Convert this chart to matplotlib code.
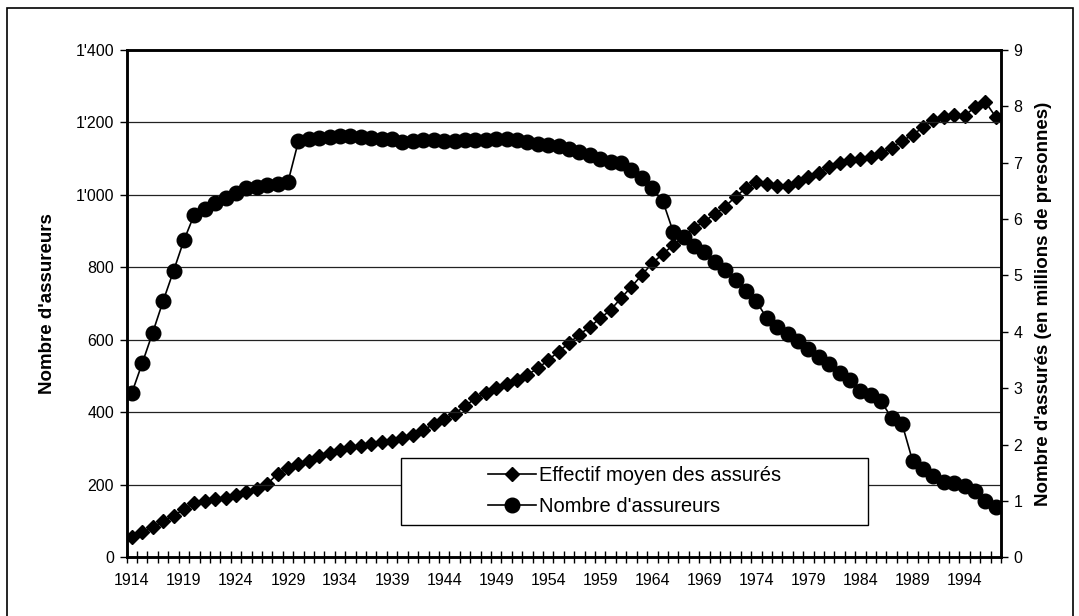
import numpy as np
import matplotlib.pyplot as plt
from matplotlib.patches import Rectangle
from matplotlib.ticker import FuncFormatter

plt.rcParams['font.family'] = ['Liberation Sans', 'DejaVu Sans']

years = list(range(1914, 1998))

# Nombre d'assureurs (axe de gauche)
assureurs = [454, 536, 620, 707, 790, 875, 946, 962, 977, 992,
             1005, 1018, 1022, 1028, 1031, 1036, 1148, 1154, 1157, 1161,
             1163, 1163, 1161, 1158, 1155, 1154, 1147, 1150, 1152, 1152,
             1150, 1150, 1151, 1152, 1153, 1155, 1155, 1152, 1146, 1141,
             1137, 1134, 1127, 1118, 1109, 1100, 1092, 1088, 1069, 1046,
             1018, 984, 899, 885, 860, 842, 816, 793, 764, 736,
             706, 660, 635, 615, 598, 575, 552, 533, 510, 489,
             458, 448, 430, 384, 368, 267, 244, 225, 209, 204,
             196, 182, 156, 140]

# Effectif moyen des assurés, en millions (axe de droite)
assures = [0.36, 0.44, 0.53, 0.64, 0.74, 0.85, 0.97, 0.99, 1.03, 1.06,
           1.11, 1.16, 1.21, 1.30, 1.48, 1.58, 1.65, 1.71, 1.79, 1.85,
           1.91, 1.95, 1.98, 2.01, 2.04, 2.07, 2.11, 2.17, 2.26, 2.36,
           2.45, 2.55, 2.68, 2.82, 2.91, 3.00, 3.08, 3.14, 3.24, 3.35,
           3.50, 3.65, 3.80, 3.95, 4.09, 4.24, 4.39, 4.60, 4.80, 5.01,
           5.22, 5.38, 5.54, 5.69, 5.84, 5.96, 6.09, 6.22, 6.40, 6.55,
           6.65, 6.62, 6.58, 6.59, 6.66, 6.75, 6.82, 6.93, 7.00, 7.04,
           7.07, 7.11, 7.17, 7.27, 7.39, 7.49, 7.63, 7.75, 7.82, 7.85,
           7.83, 7.99, 8.08, 7.81]

left_ticks = [0, 200, 400, 600, 800, 1000, 1200, 1400]
right_ticks = list(range(0, 10))

fig = plt.figure(figsize=(10.79, 6.16), dpi=100)
ax = fig.add_axes([0.1174, 0.0953, 0.8103, 0.8235])
ax2 = ax.twinx()
ax.set_zorder(ax2.get_zorder() + 1)
ax.patch.set_visible(False)

x = np.arange(len(years))

l1, = ax2.plot(x, assures, color='black', lw=1.2, marker='D', ms=7,
               label='Effectif moyen des assurés')
l2, = ax.plot(x, assureurs, color='black', lw=1.2, marker='o', ms=10.5,
              label="Nombre d'assureurs")

ax.set_xlim(-0.5, len(years) - 0.5)
ax.set_ylim(0, 1400)
ax2.set_ylim(0, 9)

ax.set_yticks(left_ticks)
ax.yaxis.set_major_formatter(FuncFormatter(lambda v, p: f"{int(v):,}".replace(',', "'")))
ax2.set_yticks(right_ticks)

# ticks at category boundaries, labels every 5 years at the centres
ax.set_xticks(np.arange(-0.5, len(years), 1.0))
ax.set_xticklabels([])
lab_pos = x[::5]
ax.set_xticks(lab_pos, minor=True)
ax.set_xticklabels([str(years[i]) for i in lab_pos], minor=True)
ax.tick_params(axis='x', which='major', direction='inout', length=9, width=1)
ax.tick_params(axis='x', which='minor', length=0, pad=11, labelsize=11.5)
ax.tick_params(axis='y', direction='out', length=5, width=1, labelsize=11.5, pad=4)
ax2.tick_params(axis='y', direction='out', length=5, width=1, labelsize=11.5, pad=4)

ax.yaxis.grid(True, color='#222222', lw=0.9)
ax.set_axisbelow(True)

for a in (ax, ax2):
    for s in a.spines.values():
        s.set_linewidth(1.8)

ax.set_ylabel("Nombre d'assureurs", fontsize=13.5, fontweight='bold', labelpad=14)
ax2.set_ylabel("Nombre d'assurés (en millions de presonnes)", fontsize=13.5,
               fontweight='bold', labelpad=9)

# legend box
box = Rectangle((0.314, 0.0637), 0.534, 0.1323, transform=ax.transAxes,
                facecolor='white', edgecolor='black', lw=1.0, zorder=8)
ax.add_patch(box)
leg = ax.legend(handles=[l1, l2], loc='center', bbox_to_anchor=(0.581, 0.1298),
                frameon=False, fontsize=14.5, handlelength=2.4, handletextpad=0.15,
                labelspacing=0.6)
leg.set_zorder(9)

# outer border
fig.patches.append(Rectangle((7 / 1079, -0.01), 1066 / 1079, 1 - 8 / 616 + 0.01,
                             transform=fig.transFigure, fill=False,
                             edgecolor='black', lw=1.2))

fig.savefig('out.png', dpi=100)
